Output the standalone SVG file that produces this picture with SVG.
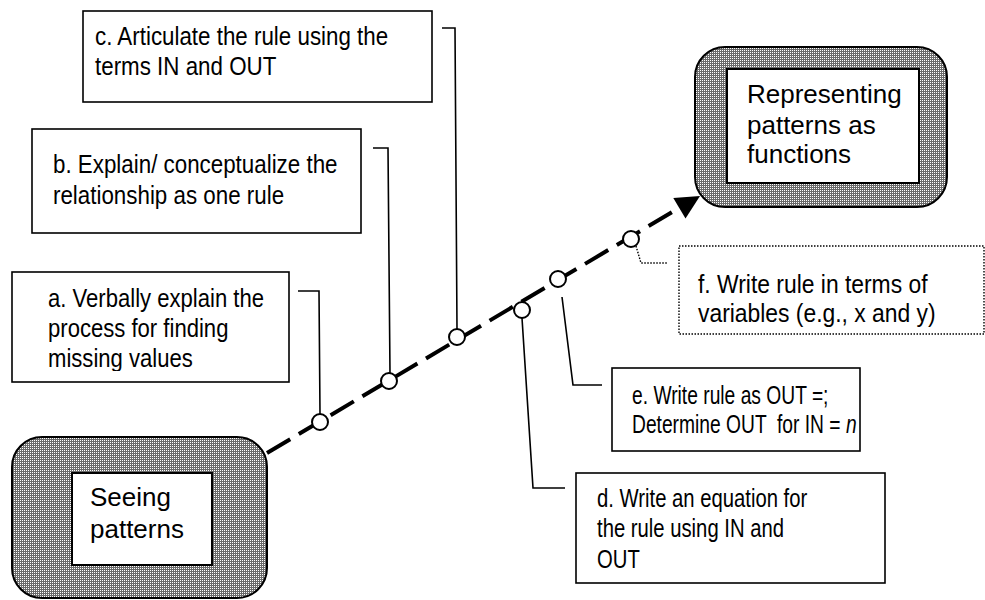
<svg xmlns="http://www.w3.org/2000/svg" width="985" height="600" viewBox="0 0 985 600">
<defs>
<pattern id="dots" width="2" height="2" patternUnits="userSpaceOnUse">
<rect width="2" height="2" fill="#6a6a6a"/>
<rect width="1" height="1" fill="#ffffff"/>
</pattern>
<clipPath id="clipA"><rect x="12" y="272" width="277" height="99"/></clipPath>
<style>
.box{fill:#fff;stroke:#000;stroke-width:1.6}
.dbox{fill:#fff;stroke:#000;stroke-width:1.4;stroke-dasharray:1.5 1.5}
.outer{fill:url(#dots);stroke:#000;stroke-width:2}
.inner{fill:#fff;stroke:#000;stroke-width:2}
.t{font-family:"Liberation Sans",Arial,sans-serif;font-size:26px;fill:#000}
.lead{fill:none;stroke:#000;stroke-width:1.6}
.dlead{fill:none;stroke:#000;stroke-width:1.4;stroke-dasharray:1.5 1.5}
.main{fill:none;stroke:#000;stroke-width:4;stroke-dasharray:27 10}
.pt{fill:#fff;stroke:#000;stroke-width:2}
</style>
</defs>
<rect width="985" height="600" fill="#fff"/>

<g id="connectors">
<path class="main" d="M267,453 L679,208"/>
<polygon points="700,196 685.5,218.6 673.3,198" fill="#000"/>
<polyline class="lead" points="298,291 319,291 320,414"/>
<polyline class="lead" points="373,148 388,148 390,373"/>
<polyline class="lead" points="442,28 455,28 457,329"/>
<polyline class="lead" points="565,488 533,488 522,318"/>
<polyline class="lead" points="602,385 573,385 562,297"/>
<polyline class="dlead" points="636,246 641,263 667,263"/>
<circle class="pt" cx="320" cy="422" r="8"/>
<circle class="pt" cx="389" cy="381" r="8"/>
<circle class="pt" cx="457" cy="337" r="8"/>
<circle class="pt" cx="522" cy="310" r="8"/>
<circle class="pt" cx="558" cy="279" r="8"/>
<circle class="pt" cx="631" cy="239" r="8"/>
</g>

<g id="node-seeing">
<rect class="outer" x="12" y="437" width="255" height="161" rx="30"/>
<rect class="inner" x="72" y="473" width="140" height="92"/>
<text class="t" x="90" y="506" font-size="20">Seeing</text>
<text class="t" x="90" y="538" font-size="25">patterns</text>
</g>

<g id="node-representing">
<rect class="outer" x="695" y="47" width="252" height="160" rx="30"/>
<rect class="inner" x="727" y="69" width="192" height="114"/>
<text class="t" x="747" y="103">Representing</text>
<text class="t" x="747" y="134">patterns as</text>
<text class="t" x="747" y="163">functions</text>
</g>

<g id="step-a">
<rect class="box" x="12" y="272" width="277" height="110"/>
<g clip-path="url(#clipA)">
<text class="t" transform="translate(48,307) scale(0.85,1)"><tspan x="0" y="0">a. Verbally explain the</tspan><tspan x="0" y="30">process for finding</tspan><tspan x="0" y="60">missing values</tspan></text>
</g>
</g>

<g id="step-b">
<rect class="box" x="32" y="129" width="329" height="104"/>
<text class="t" transform="translate(53,173) scale(0.86,1)"><tspan x="0" y="0">b. Explain/ conceptualize the</tspan><tspan x="0" y="31">relationship as one rule</tspan></text>
</g>

<g id="step-c">
<rect class="box" x="83" y="11" width="349" height="91"/>
<text class="t" transform="translate(95,45) scale(0.86,1)"><tspan x="0" y="0">c. Articulate the rule using the</tspan><tspan x="0" y="30">terms IN and OUT</tspan></text>
</g>

<g id="step-d">
<rect class="box" x="576" y="473" width="309" height="110"/>
<text class="t" transform="translate(597,507) scale(0.78,1)"><tspan x="0" y="0">d. Write an equation for</tspan><tspan x="0" y="30">the rule using IN and</tspan><tspan x="0" y="61">OUT</tspan></text>
</g>

<g id="step-e">
<rect class="box" x="612" y="368" width="248" height="83"/>
<text class="t" transform="translate(632,404) scale(0.74,1)" xml:space="preserve"><tspan x="0" y="0">e. Write rule as OUT =;</tspan><tspan x="0" y="29">Determine OUT  for IN = <tspan font-style="italic">n</tspan></tspan></text>
</g>

<g id="step-f">
<rect class="dbox" x="679" y="246" width="305" height="88"/>
<text class="t" transform="translate(698,293) scale(0.88,1)"><tspan x="0" y="0">f. Write rule in terms of</tspan><tspan x="0" y="29">variables (e.g., x and y)</tspan></text>
</g>
</svg>
